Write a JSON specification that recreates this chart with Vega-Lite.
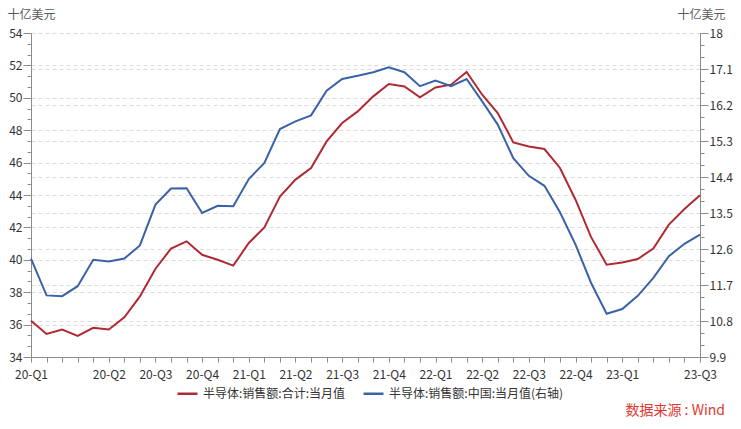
{
  "$schema": "https://vega.github.io/schema/vega-lite/v6.json",
  "width": 669,
  "height": 324,
  "autosize": {"type": "none"},
  "padding": {"left": 31, "top": 33, "right": 41, "bottom": 72},
  "background": "white",
  "config": {
    "font": "Noto Sans CJK SC",
    "view": {"stroke": null},
    "axis": {
      "labelFont": "Noto Sans CJK SC",
      "labelFontSize": 12,
      "labelColor": "#333333",
      "domainColor": "#8c8c8c",
      "tickColor": "#8c8c8c",
      "gridColor": "#dcdcdc",
      "gridDash": [4, 3],
      "gridWidth": 1,
      "titleFont": "Noto Sans CJK SC",
      "titleFontWeight": "normal"
    },
    "legend": {"labelFont": "Noto Sans CJK SC"}
  },
  "title": {
    "text": "数据来源 : Wind",
    "orient": "bottom",
    "anchor": "end",
    "frame": "group",
    "color": "#E0392F",
    "fontSize": 14,
    "fontWeight": "normal",
    "offset": 4,
    "dx": 25
  },
  "data": {
    "values": [
      {"month": "2020-01", "total": 36.24, "china": 12.36},
      {"month": "2020-02", "total": 35.42, "china": 11.44},
      {"month": "2020-03", "total": 35.7, "china": 11.42},
      {"month": "2020-04", "total": 35.3, "china": 11.67},
      {"month": "2020-05", "total": 35.8, "china": 12.33},
      {"month": "2020-06", "total": 35.7, "china": 12.29},
      {"month": "2020-07", "total": 36.45, "china": 12.36},
      {"month": "2020-08", "total": 37.74, "china": 12.69},
      {"month": "2020-09", "total": 39.45, "china": 13.71},
      {"month": "2020-10", "total": 40.69, "china": 14.11},
      {"month": "2020-11", "total": 41.14, "china": 14.12},
      {"month": "2020-12", "total": 40.31, "china": 13.5},
      {"month": "2021-01", "total": 40.0, "china": 13.68},
      {"month": "2021-02", "total": 39.64, "china": 13.67},
      {"month": "2021-03", "total": 41.04, "china": 14.35},
      {"month": "2021-04", "total": 42.0, "china": 14.75},
      {"month": "2021-05", "total": 43.91, "china": 15.6},
      {"month": "2021-06", "total": 44.95, "china": 15.79},
      {"month": "2021-07", "total": 45.67, "china": 15.94},
      {"month": "2021-08", "total": 47.31, "china": 16.56},
      {"month": "2021-09", "total": 48.44, "china": 16.85},
      {"month": "2021-10", "total": 49.16, "china": 16.93},
      {"month": "2021-11", "total": 50.09, "china": 17.02},
      {"month": "2021-12", "total": 50.85, "china": 17.14},
      {"month": "2022-01", "total": 50.7, "china": 17.02},
      {"month": "2022-02", "total": 50.03, "china": 16.67},
      {"month": "2022-03", "total": 50.64, "china": 16.81},
      {"month": "2022-04", "total": 50.81, "china": 16.67},
      {"month": "2022-05", "total": 51.59, "china": 16.85},
      {"month": "2022-06", "total": 50.19, "china": 16.29},
      {"month": "2022-07", "total": 49.06, "china": 15.71},
      {"month": "2022-08", "total": 47.25, "china": 14.87},
      {"month": "2022-09", "total": 47.0, "china": 14.43},
      {"month": "2022-10", "total": 46.84, "china": 14.18},
      {"month": "2022-11", "total": 45.67, "china": 13.52},
      {"month": "2022-12", "total": 43.71, "china": 12.71},
      {"month": "2023-01", "total": 41.4, "china": 11.75},
      {"month": "2023-02", "total": 39.7, "china": 10.98},
      {"month": "2023-03", "total": 39.84, "china": 11.1},
      {"month": "2023-04", "total": 40.05, "china": 11.43},
      {"month": "2023-05", "total": 40.7, "china": 11.88},
      {"month": "2023-06", "total": 42.17, "china": 12.42},
      {"month": "2023-07", "total": 43.14, "china": 12.73},
      {"month": "2023-08", "total": 43.98, "china": 12.96}
    ]
  },
  "encoding": {
    "x": {
      "field": "month",
      "type": "ordinal",
      "sort": null,
      "scale": {"type": "point", "padding": 0},
      "axis": {
        "title": null,
        "labelAngle": 0,
        "labelOverlap": false,
        "tickSize": 5,
        "labelPadding": 7,
        "grid": false,
        "labelExpr": "indexof(['2020-01','2020-06','2020-09','2020-12','2021-03','2021-06','2021-09','2021-12','2022-03','2022-06','2022-09','2022-12','2023-03','2023-08'], datum.value) < 0 ? '' : ['20-Q1','20-Q2','20-Q3','20-Q4','21-Q1','21-Q2','21-Q3','21-Q4','22-Q1','22-Q2','22-Q3','22-Q4','23-Q1','23-Q3'][indexof(['2020-01','2020-06','2020-09','2020-12','2021-03','2021-06','2021-09','2021-12','2022-03','2022-06','2022-09','2022-12','2023-03','2023-08'], datum.value)]"
      }
    }
  },
  "layer": [
    {
      "mark": {"type": "line", "strokeWidth": 2},
      "encoding": {
        "y": {
          "field": "total",
          "type": "quantitative",
          "scale": {"domain": [34, 54], "nice": false, "zero": false},
          "axis": {
            "orient": "left",
            "values": [34, 36, 38, 40, 42, 44, 46, 48, 50, 52, 54],
            "format": "d",
            "tickSize": 8,
            "labelPadding": 1,
            "grid": true,
            "title": "十亿美元",
            "titleAngle": 0,
            "titleAlign": "center",
            "titleBaseline": "middle",
            "titleX": 0,
            "titleY": -19,
            "titleColor": "#595959",
            "titleFontSize": 12
          }
        },
        "color": {
          "datum": "半导体:销售额:合计:当月值",
          "type": "nominal",
          "scale": {
            "domain": ["半导体:销售额:合计:当月值", "半导体:销售额:中国:当月值(右轴)"],
            "range": ["#B02A33", "#3A62A7"]
          },
          "legend": {
            "orient": "none",
            "legendX": 145,
            "legendY": 349,
            "direction": "horizontal",
            "title": null,
            "symbolType": "stroke",
            "symbolStrokeWidth": 2.5,
            "symbolSize": 400,
            "labelFontSize": 12,
            "labelColor": "#333333",
            "labelOffset": 4,
            "labelLimit": 400,
            "columnPadding": 12
          }
        }
      }
    },
    {
      "mark": {"type": "line", "strokeWidth": 2},
      "encoding": {
        "y": {
          "field": "china",
          "type": "quantitative",
          "scale": {"domain": [9.9, 18], "nice": false, "zero": false},
          "axis": {
            "orient": "right",
            "values": [9.9, 10.8, 11.7, 12.6, 13.5, 14.4, 15.3, 16.2, 17.1, 18],
            "format": ".1~f",
            "tickSize": 8,
            "labelPadding": 1,
            "grid": true,
            "title": "十亿美元",
            "titleAngle": 0,
            "titleAlign": "center",
            "titleBaseline": "middle",
            "titleX": 1,
            "titleY": -19,
            "titleColor": "#595959",
            "titleFontSize": 12
          }
        },
        "color": {"datum": "半导体:销售额:中国:当月值(右轴)", "type": "nominal"}
      }
    },
    {
      "mark": {"type": "line", "opacity": 0},
      "encoding": {
        "y": {
          "field": "total",
          "type": "quantitative",
          "scale": {"domain": [34, 54], "nice": false, "zero": false},
          "axis": {
            "orient": "left",
            "values": [34.667, 35.333, 36.667, 37.333, 38.667, 39.333, 40.667, 41.333, 42.667, 43.333, 44.667, 45.333, 46.667, 47.333, 48.667, 49.333, 50.667, 51.333, 52.667, 53.333],
            "labels": false,
            "grid": false,
            "domain": false,
            "tickSize": 4,
            "title": null
          }
        }
      }
    },
    {
      "mark": {"type": "line", "opacity": 0},
      "encoding": {
        "y": {
          "field": "china",
          "type": "quantitative",
          "scale": {"domain": [9.9, 18], "nice": false, "zero": false},
          "axis": {
            "orient": "right",
            "values": [10.2, 10.5, 11.1, 11.4, 12.0, 12.3, 12.9, 13.2, 13.8, 14.1, 14.7, 15.0, 15.6, 15.9, 16.5, 16.8, 17.4, 17.7],
            "labels": false,
            "grid": false,
            "domain": false,
            "tickSize": 4,
            "title": null
          }
        }
      }
    }
  ],
  "resolve": {"scale": {"y": "independent", "color": "shared"}}
}
